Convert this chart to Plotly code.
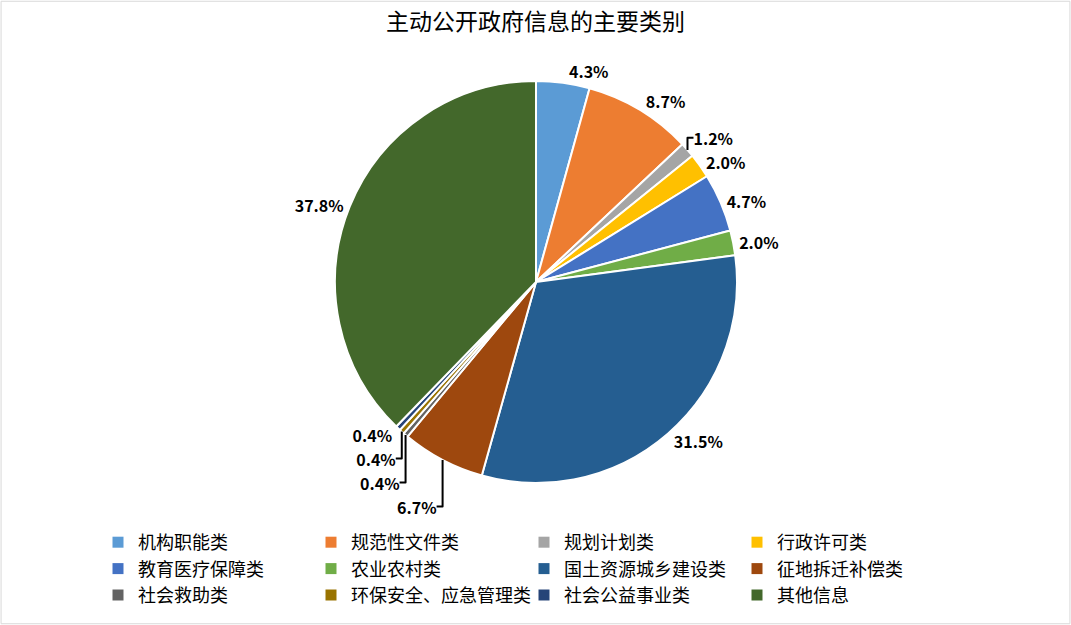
import plotly.graph_objects as go

categories = ["机构职能类", "规范性文件类", "规划计划类", "行政许可类",
              "教育医疗保障类", "农业农村类", "国土资源城乡建设类", "征地拆迁补偿类",
              "社会救助类", "环保安全、应急管理类", "社会公益事业类", "其他信息"]
shares = [4.3, 8.7, 1.2, 2.0, 4.7, 2.0, 31.5, 6.7, 0.4, 0.4, 0.4, 37.8]
colors = ["#5B9BD5", "#ED7D31", "#A5A5A5", "#FFC000", "#4472C4", "#70AD47",
          "#255E91", "#9E480E", "#636363", "#997300", "#264478", "#43682B"]

W, H = 1071, 625
font_family = "Noto Sans CJK SC, Microsoft YaHei, sans-serif"

# pie centre and radius in pixels
cx, cy, half = 536, 282, 201

fig = go.Figure()
fig.add_trace(
    go.Pie(
        labels=categories,
        values=shares,
        sort=False,
        direction="clockwise",
        rotation=0,
        marker=dict(colors=colors, line=dict(color="white", width=2)),
        texttemplate="<b>%{value:.1f}%</b>",
        textposition="outside",
        outsidetextfont=dict(size=16, color="black", family=font_family),
        domain=dict(x=[(cx - half) / W, (cx + half) / W],
                    y=[(H - cy - half) / H, (H - cy + half) / H]),
        hoverinfo="label+percent",
        showlegend=False,
    )
)

# Legend: 4 columns x 3 rows, built from empty traces (one legend per column)
legend_names = ["legend", "legend2", "legend3", "legend4"]
for i, (name, col) in enumerate(zip(categories, colors)):
    fig.add_trace(
        go.Scatter(
            x=[None],
            y=[None],
            name=name,
            mode="markers",
            marker=dict(symbol="square", color=col, size=11),
            legend=legend_names[i % 4],
            hoverinfo="skip",
        )
    )

legend_style = dict(orientation="v", xanchor="left", y=(H - 524) / H, yanchor="top",
                    font=dict(size=18, color="black", family=font_family),
                    itemclick=False, itemdoubleclick=False, bgcolor="rgba(0,0,0,0)")
col_left = [98, 311, 524, 737]

# thin frame around the chart area
fig.add_shape(type="rect", xref="paper", yref="paper", x0=0.001, x1=0.999,
              y0=0.002, y1=0.998, line=dict(color="#D9D9D9", width=1))

fig.update_layout(
    width=W,
    height=H,
    margin=dict(l=0, r=0, t=0, b=0),
    paper_bgcolor="white",
    plot_bgcolor="white",
    xaxis=dict(visible=False),
    yaxis=dict(visible=False),
    font=dict(family=font_family, size=15, color="black"),
    title=dict(text="主动公开政府信息的主要类别", x=0.5, xanchor="center",
               y=1 - 22 / H, yanchor="middle",
               font=dict(size=23, color="black", family=font_family)),
    legend=dict(legend_style, x=col_left[0] / W),
    legend2=dict(legend_style, x=col_left[1] / W),
    legend3=dict(legend_style, x=col_left[2] / W),
    legend4=dict(legend_style, x=col_left[3] / W),
)

# page body has an 8px default margin; drop it so the figure fills the window
fig.write_html("out.html", config={"displayModeBar": False},
               post_script="document.body.style.margin='0';")
